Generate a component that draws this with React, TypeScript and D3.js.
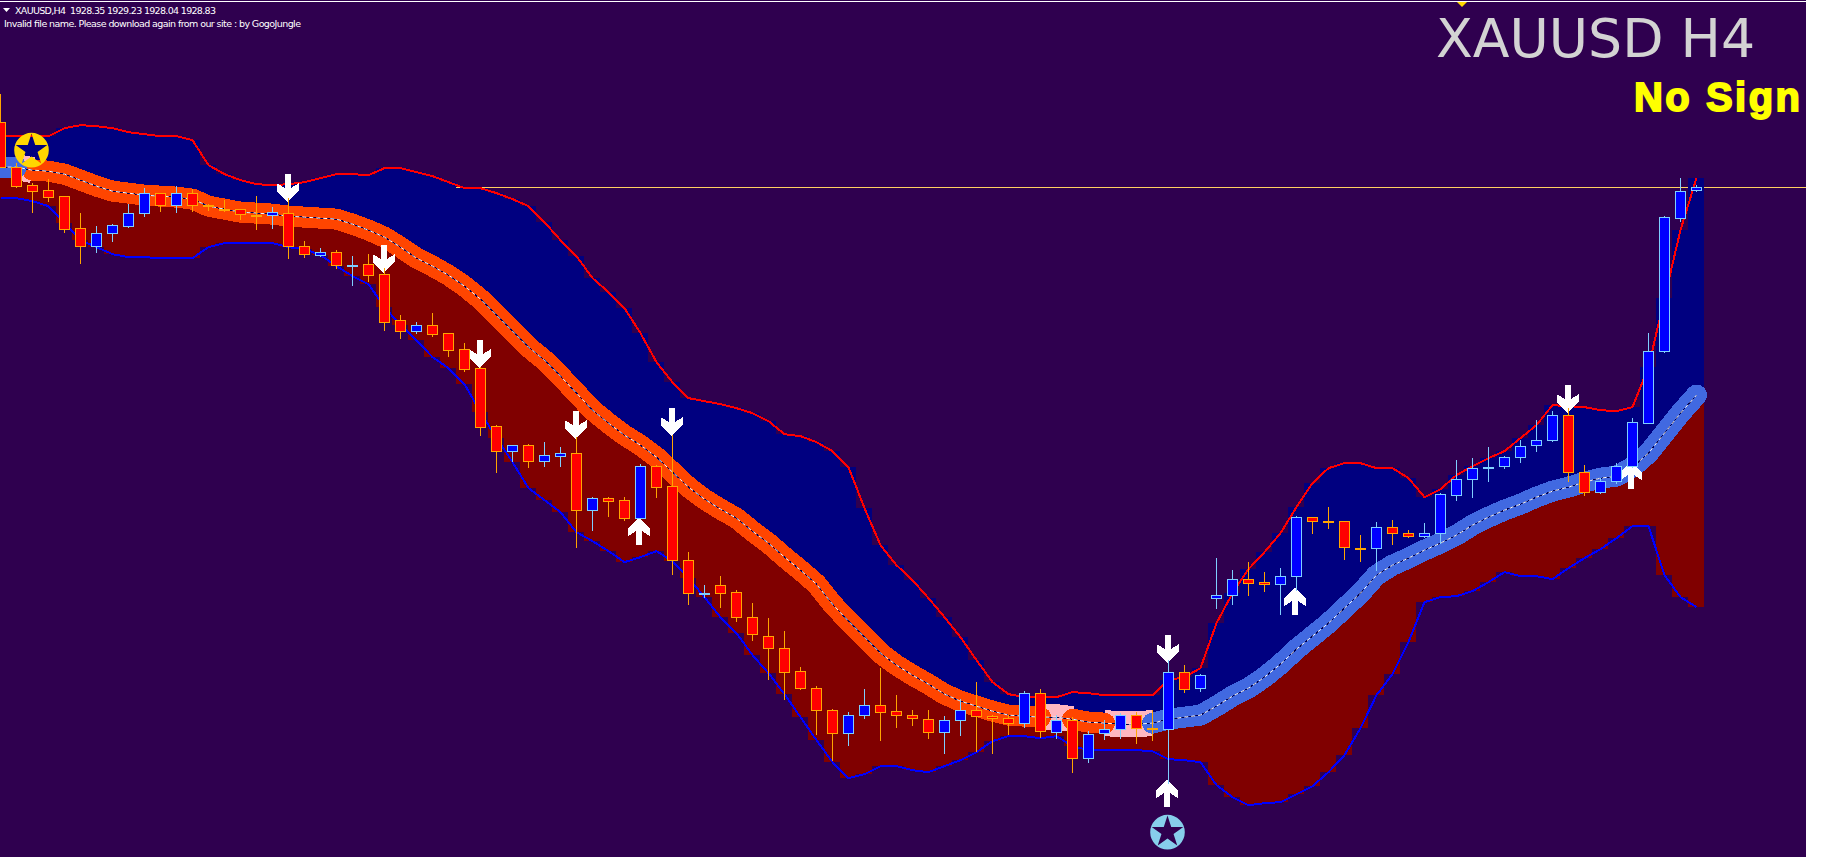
import React, { useEffect, useRef } from 'react';
import * as d3 from 'd3';

// XAUUSD H4 candles, one entry per bar, left to right
const opens = [1941.9,1932.9,1929.3,1928.3,1927.1,1920.7,1917.1,1919.7,1921.1,1923.7,1927.7,1925.3,1927.7,1925.3,1924.5,1924.5,1923.3,1923.3,1923.7,1917.1,1915.3,1915.9,1913.2,1913.5,1911.5,1902.3,1900.1,1901.3,1899.7,1896.5,1892.7,1881.1,1876.1,1877.3,1874.1,1875.1,1875.7,1864.3,1866.7,1866.3,1862.7,1873.1,1869.1,1854.3,1847.6,1849.3,1847.9,1842.9,1839.1,1836.7,1832.1,1828.7,1824.3,1819.7,1823.3,1825.3,1824.1,1823.3,1822.5,1819.9,1822.3,1824.3,1823.1,1822.7,1821.7,1827.7,1819.9,1822.3,1814.7,1819.7,1820.5,1823.3,1820.7,1820.5,1831.9,1828.7,1846.7,1847.3,1850.5,1849.9,1849.5,1851.1,1862.9,1862.1,1862.1,1856.7,1856.7,1860.9,1859.7,1859.1,1859.7,1867.3,1870.5,1872.7,1873.1,1874.9,1877.3,1878.3,1883.3,1871.9,1867.9,1870.1,1873.1,1881.7,1896.1,1922.7,1928.35];
const highs = [1947.5,1933.7,1929.7,1930.5,1927.1,1923.7,1921.1,1921.5,1925.5,1928.7,1927.7,1929.1,1928.5,1925.5,1926.3,1924.5,1927.1,1924.9,1926.7,1918.1,1916.7,1916.3,1915.1,1915.5,1912.7,1903.3,1901.9,1903.7,1899.7,1897.7,1892.9,1881.3,1877.3,1877.5,1877.9,1876.9,1878.9,1866.9,1866.9,1866.9,1873.5,1873.3,1879.3,1855.9,1849.3,1851.1,1848.3,1845.7,1842.7,1840.1,1832.9,1829.1,1824.5,1823.9,1828.5,1832.7,1827.3,1824.3,1824.3,1823.1,1826.5,1829.9,1823.3,1823.3,1828.1,1828.5,1823.3,1822.9,1820.1,1822.3,1823.7,1823.9,1824.3,1834.3,1833.3,1831.5,1854.7,1852.3,1853.9,1851.9,1852.7,1863.1,1862.9,1864.9,1862.1,1859.3,1861.9,1862.3,1860.3,1861.7,1867.7,1874.3,1874.7,1876.9,1875.1,1878.3,1882.3,1884.1,1884.7,1873.3,1870.7,1873.7,1882.7,1899.7,1923.1,1930.7,1929.23];
const lows = [1932.9,1928.9,1923.9,1926.1,1919.9,1913.7,1915.9,1918.1,1920.9,1923.1,1924.1,1923.9,1924.1,1924.3,1924.1,1922.5,1920.5,1920.7,1914.7,1914.9,1915.1,1912.7,1909.3,1910.1,1900.3,1898.7,1899.7,1899.1,1895.1,1892.1,1879.3,1871.9,1874.1,1872.9,1873.1,1873.1,1856.9,1860.3,1863.1,1862.3,1862.7,1866.9,1851.5,1845.5,1846.9,1844.9,1842.1,1838.3,1830.5,1826.5,1828.5,1819.5,1814.3,1817.3,1822.7,1818.3,1820.9,1821.3,1818.7,1815.7,1819.3,1816.1,1815.7,1819.5,1820.9,1818.9,1818.7,1811.9,1813.9,1818.5,1818.7,1817.7,1818.3,1809.7,1827.9,1828.1,1844.7,1845.5,1847.3,1848.1,1843.5,1848.3,1859.7,1860.7,1854.5,1854.1,1852.3,1857.5,1858.9,1858.9,1857.7,1866.3,1866.9,1870.1,1872.7,1873.9,1876.1,1878.1,1870.1,1867.3,1867.7,1869.7,1872.9,1881.7,1895.9,1922.1,1928.04];
const closes = [1932.9,1929.1,1928.1,1926.9,1920.5,1917.1,1919.7,1921.3,1923.7,1927.7,1925.3,1927.7,1925.3,1925.1,1924.5,1923.5,1923.3,1923.9,1917.1,1915.5,1915.9,1913.3,1913.3,1911.3,1901.9,1900.1,1901.3,1899.5,1896.3,1892.5,1880.9,1876.1,1877.3,1874.1,1875.3,1875.7,1864.3,1866.7,1866.1,1862.7,1873.1,1868.9,1854.3,1847.7,1847.7,1847.7,1842.9,1839.5,1836.7,1831.9,1828.7,1824.3,1819.7,1823.3,1825.3,1823.9,1823.3,1822.7,1819.9,1822.3,1824.3,1823.1,1822.7,1821.7,1827.7,1820.1,1822.3,1814.7,1819.5,1820.5,1823.3,1820.7,1820.7,1831.9,1828.5,1831.3,1847.3,1850.5,1849.7,1849.5,1851.1,1862.9,1862.1,1862.1,1856.9,1856.7,1860.9,1859.7,1859.1,1859.7,1867.5,1870.5,1872.7,1872.9,1874.9,1877.1,1878.3,1883.3,1871.9,1867.9,1870.1,1873.1,1881.9,1896.1,1922.9,1928.1,1928.83];

// indicator channel, same bars
const upperBand = [1939.1,1939.1,1939.1,1939.1,1940.7,1941.3,1941.1,1940.7,1939.9,1939.5,1939.1,1939.1,1938.3,1933.3,1931.5,1930.3,1929.5,1929.3,1929.5,1929.9,1930.7,1931.5,1931.5,1931.3,1932.7,1932.7,1931.9,1931.1,1929.9,1928.7,1928.7,1927.7,1926.5,1925.1,1921.9,1918.3,1915.1,1910.7,1907.9,1904.7,1899.7,1893.9,1889.9,1886.7,1886.1,1885.5,1884.7,1883.7,1882.1,1879.5,1879.1,1877.9,1876.1,1872.9,1864.7,1857.3,1853.3,1850.3,1846.7,1842.9,1838.9,1834.3,1829.9,1827.5,1826.9,1826.9,1826.9,1827.9,1827.7,1827.3,1827.3,1827.3,1827.3,1830.3,1830.9,1832.7,1841.7,1847.7,1852.5,1855.9,1859.7,1864.9,1869.7,1872.7,1873.7,1873.7,1872.7,1872.7,1870.7,1866.9,1868.5,1871.3,1873.1,1874.7,1876.1,1878.7,1881.3,1885.3,1885.1,1884.9,1884.3,1884.1,1884.9,1892.9,1906.7,1920.3,1930.7];
const midBand = [1932.9,1932.9,1932.3,1932.1,1931.5,1930.3,1929.1,1928.1,1927.7,1927.3,1927.1,1926.9,1926.5,1925.1,1924.5,1923.9,1923.7,1923.5,1923.1,1922.9,1922.7,1922.5,1921.5,1920.3,1918.9,1916.9,1914.7,1913.1,1911.3,1909.1,1906.5,1903.3,1900.1,1896.9,1894.3,1891.1,1887.7,1884.3,1881.7,1879.3,1877.3,1874.9,1871.9,1868.9,1866.5,1864.5,1862.7,1860.1,1857.7,1854.9,1852.3,1849.5,1845.5,1842.1,1838.9,1835.7,1833.3,1831.3,1829.5,1827.5,1826.1,1825.1,1824.1,1823.3,1823.1,1822.9,1822.9,1822.5,1821.9,1821.7,1821.5,1821.5,1821.7,1822.5,1822.9,1823.3,1825.1,1827.1,1828.7,1830.9,1833.5,1836.5,1839.1,1841.7,1844.7,1847.7,1851.3,1853.3,1854.7,1856.3,1857.7,1859.3,1861.3,1862.9,1864.3,1865.5,1866.9,1868.1,1868.9,1869.9,1870.7,1871.1,1872.9,1875.7,1879.7,1883.7,1887.3];
const lowerBand = [1926.7,1926.7,1926.1,1925.1,1921.7,1918.3,1916.9,1915.5,1914.9,1914.9,1914.7,1914.7,1914.7,1916.9,1917.7,1917.7,1917.7,1917.7,1916.9,1916.5,1915.3,1913.1,1911.1,1909.5,1904.9,1901.3,1898.3,1894.9,1892.7,1889.5,1883.9,1878.7,1873.9,1868.7,1866.3,1863.9,1859.9,1858.1,1856.1,1853.9,1854.9,1856.1,1854.1,1850.7,1846.9,1842.9,1839.7,1835.3,1831.7,1827.5,1822.9,1818.3,1813.9,1810.7,1811.5,1813.1,1813.1,1812.3,1811.9,1813.1,1814.3,1815.9,1818.1,1819.1,1819.1,1818.7,1819.1,1817.1,1816.3,1816.3,1816.3,1816.3,1816.1,1814.5,1814.3,1813.9,1809.3,1806.9,1805.3,1805.7,1805.9,1807.5,1809.1,1811.9,1815.3,1820.7,1827.3,1831.5,1837.9,1845.9,1846.9,1847.1,1848.1,1849.9,1851.9,1851.1,1851.1,1850.5,1852.7,1854.7,1856.5,1858.7,1861.1,1861.1,1851.3,1846.9,1844.9];

// stretches of the thick centre line: [first bar, last bar]
const upTrend = [[0, 1], [72, 106]];
const downTrend = [[2, 65], [67, 69]];
const flatTrend = [[1, 2], [65, 67], [69, 72]];

// signal arrows: bar index and the price of the arrow tip
const sellBars = [18, 24, 30, 36, 42, 73, 98];
const sellTips = [1925.9, 1911.7, 1892.7, 1878.5, 1879.1, 1833.7, 1883.7];
const buyBars = [40, 73, 81, 102];
const buyTips = [1862.9, 1810.5, 1848.9, 1874.1];

// star badges
const starBars = [2, 73];
const starPrices = [1936.3, 1799.9];
const starColors = ['#ffd700', '#87ceeb'];

const bidPrice = 1928.83;
const headerText = 'XAUUSD,H4  1928.35 1929.23 1928.04 1928.83';
const noticeText = 'Invalid file name. Please download again from our site : by GogoJungle';
const titleText = 'XAUUSD H4';
const signText = 'No Sign';

const BG = '#2f004f';
const W = 1842;
const H = 859;
const PLOT_W = 1806;
const PLOT_H = 857;

const downArrow: [number, number][] = [[-3, -28], [3, -28], [3, -14], [11, -19], [11, -11], [0, 0], [-11, -11], [-11, -19], [-3, -14]];

export default function App() {
  const ref = useRef<SVGSVGElement>(null);

  useEffect(() => {
    const svg = d3.select(ref.current);
    svg.selectAll('*').remove();

    const x = d3.scaleLinear().domain([0, 106]).range([0.5, 1696.5]);
    const y = d3.scaleLinear().domain([1966.33, 1966.33 - PLOT_H / 5]).range([0, PLOT_H]);
    const bars = d3.range(opens.length);

    svg.append('rect').attr('width', PLOT_W).attr('height', PLOT_H).attr('fill', BG);
    svg.append('rect').attr('y', 1).attr('width', PLOT_W).attr('height', 1).attr('fill', '#fff');

    // bid line sits under the channel fill
    svg.append('rect').attr('y', Math.floor(y(bidPrice))).attr('width', PLOT_W).attr('height', 1).attr('fill', '#ffd060');

    const fillBars = (top: number[], bottom: number[], color: string) => {
      svg.append('g').attr('fill', color).attr('shape-rendering', 'crispEdges')
        .selectAll('rect').data(bars).enter().append('rect')
        .attr('x', i => Math.floor(x(i) - 8))
        .attr('width', 16)
        .attr('y', i => Math.round(y(top[i])))
        .attr('height', i => Math.max(0, Math.round(y(bottom[i])) - Math.round(y(top[i]))));
    };
    fillBars(upperBand, midBand, '#000080');
    fillBars(midBand, lowerBand, '#800000');

    const midLine = d3.line<number>().x(i => x(i)).y(i => y(midBand[i]));
    const thick = (spans: number[][], color: string, cap: string, width: number) => {
      spans.forEach(([a, b]) => {
        svg.append('path').datum(d3.range(a, b + 1)).attr('d', midLine).attr('fill', 'none')
          .attr('stroke', color).attr('stroke-width', width).attr('stroke-linecap', cap).attr('stroke-linejoin', 'round')
          .attr('shape-rendering', 'crispEdges');
      });
    };
    thick(flatTrend, '#ffb6c1', 'butt', 26);
    thick(downTrend, '#ff4500', 'round', 21);
    thick(upTrend, '#4169e1', 'round', 21);

    svg.append('path').datum(bars).attr('d', midLine).attr('fill', 'none').attr('stroke', '#000050').attr('stroke-width', 1).attr('shape-rendering', 'crispEdges');
    svg.append('path').datum(bars).attr('d', midLine).attr('fill', 'none').attr('stroke', '#fff').attr('stroke-width', 1).attr('stroke-dasharray', '4 3');

    const bandLine = (vals: number[], color: string) => {
      const line = d3.line<number>().x(i => x(i)).y(i => y(vals[i]));
      svg.append('path').datum(bars).attr('d', line).attr('fill', 'none').attr('stroke', color).attr('stroke-width', 2).attr('shape-rendering', 'crispEdges');
    };
    bandLine(upperBand, '#ff0000');
    bandLine(lowerBand, '#0000ff');

    // arrows go below the candles
    const arrowPath = d3.line();
    const arrows = svg.append('g').attr('fill', '#fff').attr('shape-rendering', 'crispEdges');
    sellBars.forEach((b, i) => {
      arrows.append('path').attr('d', arrowPath(downArrow) + 'Z').attr('transform', `translate(${x(b) - 0.7},${y(sellTips[i])})`);
    });
    buyBars.forEach((b, i) => {
      arrows.append('path').attr('d', arrowPath(downArrow) + 'Z').attr('transform', `translate(${x(b) - 1.5},${y(buyTips[i])}) scale(1,-1)`);
    });

    // candles
    const candle = svg.append('g').attr('shape-rendering', 'crispEdges').selectAll('g').data(bars).enter().append('g');
    const isBull = (i: number) => closes[i] > opens[i];
    candle.append('line')
      .attr('x1', i => x(i)).attr('x2', i => x(i))
      .attr('y1', i => Math.round(y(highs[i])))
      .attr('y2', i => Math.round(y(lows[i])) + 1)
      .attr('stroke', i => isBull(i) ? '#7fcfff' : '#ffa500');
    candle.append('rect')
      .attr('x', i => x(i) - 5)
      .attr('width', 10)
      .attr('y', i => Math.round(y(Math.max(opens[i], closes[i]))) + 0.5)
      .attr('height', i => Math.max(1, Math.round(y(Math.min(opens[i], closes[i]))) - Math.round(y(Math.max(opens[i], closes[i])))))
      .attr('fill', i => isBull(i) ? '#0000ff' : '#ff0000')
      .attr('stroke', i => isBull(i) ? '#7fcfff' : '#ffa500');

    // star badges, star punched out of the disc
    const disc = d3.symbol().type(d3.symbolCircle).size(Math.PI * 17.3 * 17.3)();
    const star = d3.symbol().type(d3.symbolStar).size(310)();
    starBars.forEach((b, i) => {
      svg.append('path').attr('d', `${disc}${star}`).attr('fill-rule', 'evenodd').attr('fill', starColors[i])
        .attr('transform', `translate(${x(b) - 1},${y(starPrices[i])})`);
    });

    // labels
    svg.append('path').attr('d', d3.line()([[3, 8], [10, 8], [6.5, 12]]) + 'Z').attr('fill', '#fff');
    svg.append('path').attr('d', d3.line()([[1457, 2], [1467, 2], [1462, 7]]) + 'Z').attr('fill', '#ffd700');
    svg.append('text').attr('x', 15).attr('y', 14).attr('font-family', '"DejaVu Sans"').attr('font-size', 9.5).attr('fill', '#fff')
      .attr('xml:space', 'preserve').style('white-space', 'pre').attr('textLength', 201).text(headerText);
    svg.append('text').attr('x', 4).attr('y', 27).attr('font-family', '"DejaVu Sans"').attr('font-size', 9.5).attr('fill', '#fff')
      .attr('textLength', 297).text(noticeText);
    svg.append('text').attr('x', 1436).attr('y', 57).attr('font-family', '"DejaVu Sans"').attr('font-size', 53.7).attr('fill', '#d3d3d3').text(titleText);
    svg.append('text').attr('x', 1634).attr('y', 111).attr('font-family', '"Liberation Sans"').attr('font-weight', 700).attr('font-size', 40)
      .attr('fill', '#ffff00').attr('stroke', '#ffff00').attr('stroke-width', 1.8).attr('textLength', 166).text(signText);
  }, []);

  return <svg ref={ref} width={W} height={H} style={{ position: 'absolute', left: 0, top: 0, background: '#fff', display: 'block' }} />;
}
